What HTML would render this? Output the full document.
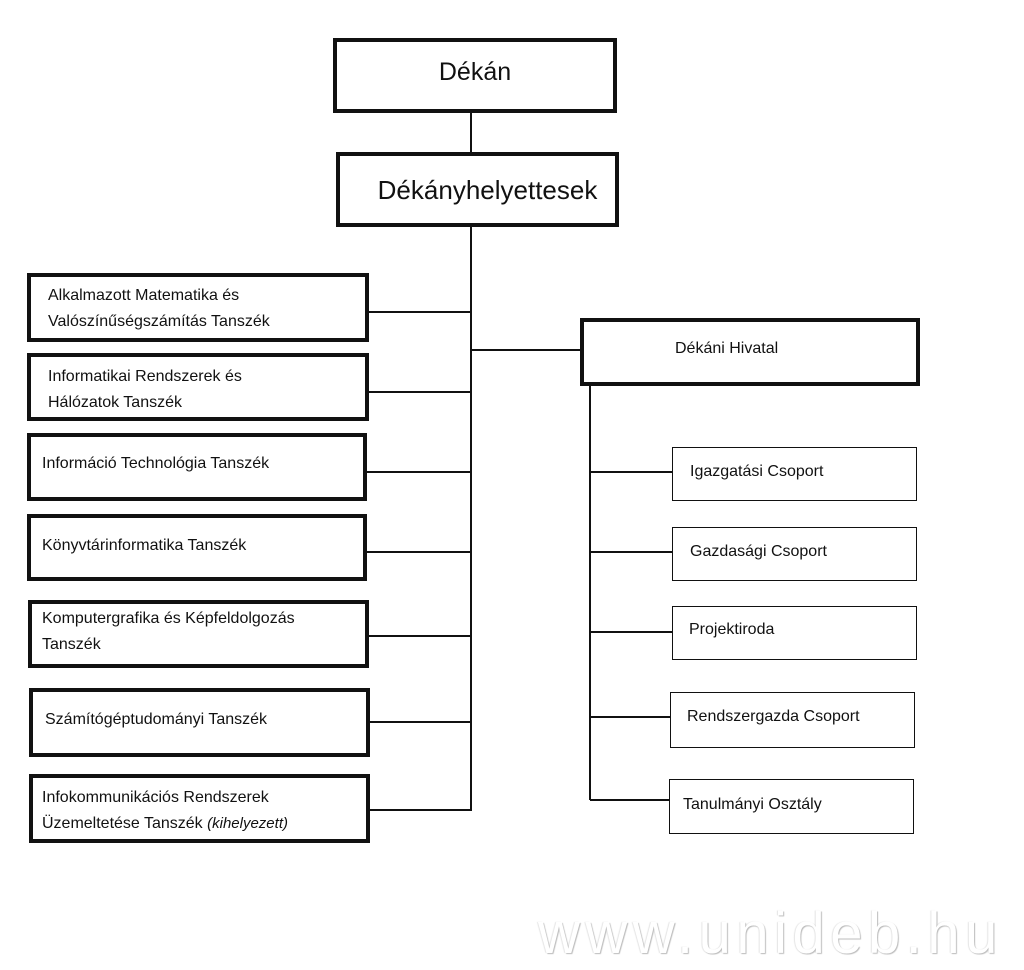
<!DOCTYPE html>
<html><head><meta charset="utf-8"><style>
body{margin:0;width:1024px;height:970px;background:#fff;position:relative;overflow:hidden;font-family:"Liberation Sans",sans-serif;color:#111}
.b{position:absolute;box-sizing:border-box;border:4px solid #111;background:#fff}
.t{border-width:1.5px}
.x{position:absolute;white-space:nowrap;font-size:16px;line-height:26px}
.h{position:absolute;height:1.5px;background:#111}
.v{position:absolute;width:1.5px;background:#111}
</style></head><body>
<div class="v" style="left:470px;top:110px;height:701px"></div>
<div class="h" style="left:366px;top:311px;width:105px"></div>
<div class="h" style="left:366px;top:391px;width:105px"></div>
<div class="h" style="left:366px;top:471px;width:105px"></div>
<div class="h" style="left:366px;top:551px;width:105px"></div>
<div class="h" style="left:366px;top:635px;width:105px"></div>
<div class="h" style="left:366px;top:721px;width:105px"></div>
<div class="h" style="left:366px;top:809px;width:105px"></div>
<div class="h" style="left:471px;top:349px;width:110px"></div>
<div class="v" style="left:589px;top:384px;height:416px"></div>
<div class="h" style="left:590px;top:471px;width:83px"></div>
<div class="h" style="left:590px;top:551px;width:83px"></div>
<div class="h" style="left:590px;top:631px;width:83px"></div>
<div class="h" style="left:590px;top:716px;width:81px"></div>
<div class="h" style="left:590px;top:799px;width:80px"></div>

<div class="b" style="left:333px;top:38px;width:284px;height:75px"></div>
<div class="x" style="left:333px;width:284px;text-align:center;top:57px;font-size:25px;line-height:30px">Dékán</div>
<div class="b" style="left:336px;top:152px;width:283px;height:75px"></div>
<div class="x" style="left:346px;width:283px;text-align:center;top:175px;font-size:26px;line-height:30px">Dékányhelyettesek</div>

<div class="b" style="left:27px;top:273px;width:342px;height:69px"></div>
<div class="x" style="left:48px;top:283px">Alkalmazott Matematika és<br>Valószínűségszámítás Tanszék</div>
<div class="b" style="left:27px;top:353px;width:342px;height:68px"></div>
<div class="x" style="left:48px;top:364px">Informatikai Rendszerek és<br>Hálózatok Tanszék</div>
<div class="b" style="left:27px;top:433px;width:340px;height:68px"></div>
<div class="x" style="left:42px;top:451px">Információ Technológia Tanszék</div>
<div class="b" style="left:27px;top:514px;width:340px;height:67px"></div>
<div class="x" style="left:42px;top:533px">Könyvtárinformatika Tanszék</div>
<div class="b" style="left:28px;top:600px;width:341px;height:68px"></div>
<div class="x" style="left:42px;top:606px">Komputergrafika és Képfeldolgozás<br>Tanszék</div>
<div class="b" style="left:29px;top:688px;width:341px;height:69px"></div>
<div class="x" style="left:45px;top:707px">Számítógéptudományi Tanszék</div>
<div class="b" style="left:29px;top:774px;width:341px;height:69px"></div>
<div class="x" style="left:42px;top:785px">Infokommunikációs Rendszerek<br>Üzemeltetése Tanszék <i style="font-size:15px">(kihelyezett)</i></div>

<div class="b" style="left:580px;top:318px;width:340px;height:68px"></div>
<div class="x" style="left:675px;top:336px">Dékáni Hivatal</div>

<div class="b t" style="left:672px;top:447px;width:245px;height:54px"></div>
<div class="x" style="left:690px;top:459px">Igazgatási Csoport</div>
<div class="b t" style="left:672px;top:527px;width:245px;height:54px"></div>
<div class="x" style="left:690px;top:539px">Gazdasági Csoport</div>
<div class="b t" style="left:672px;top:606px;width:245px;height:54px"></div>
<div class="x" style="left:689px;top:617px">Projektiroda</div>
<div class="b t" style="left:670px;top:692px;width:245px;height:56px"></div>
<div class="x" style="left:687px;top:704px">Rendszergazda Csoport</div>
<div class="b t" style="left:669px;top:779px;width:245px;height:55px"></div>
<div class="x" style="left:683px;top:792px">Tanulmányi Osztály</div>

<div class="x" style="left:538px;top:904px;font-size:58px;line-height:60px;color:#fff;letter-spacing:5.5px;text-shadow:1px 1px 1px #bbb,-1px 0 1px #e4e4e4">www.unideb.hu</div>
</body></html>
